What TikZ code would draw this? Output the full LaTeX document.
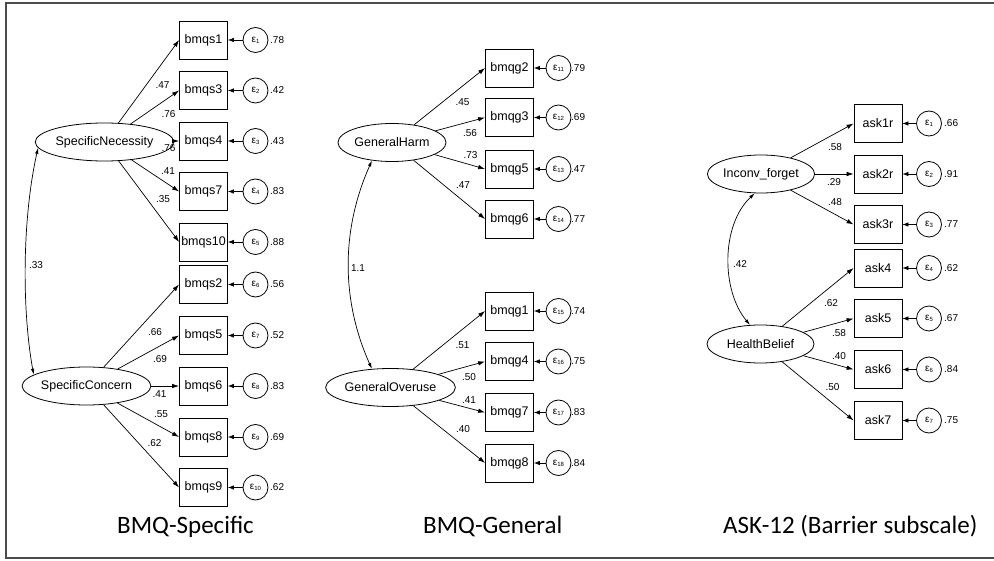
\documentclass[tikz,border=0pt]{standalone}
\usepackage{fontspec}
\setmainfont{Liberation Sans}
\newfontfamily\capfont{Carlito}
\usetikzlibrary{arrows.meta,shapes.geometric}
\newcommand\epsl[1]{{\fontsize{10}{10}\selectfont ε}\raisebox{-1pt}{\fontsize{6}{6}\selectfont #1}}
\begin{document}
\begin{tikzpicture}[x=1pt,y=-1pt,
 every node/.style={inner sep=0pt},
 ind/.style={draw, line width=0.8pt, minimum width=48pt, minimum height=38pt, font=\fontsize{12.5}{14}\selectfont},
 lat/.style={draw, ellipse, line width=0.8pt, minimum width=106pt, minimum height=38pt, font=\fontsize{12.5}{14}\selectfont},
 err/.style={draw, circle, line width=0.8pt, minimum size=25pt},
 num/.style={font=\fontsize{10}{11}\selectfont},
 load/.style={-{Latex[length=7pt,width=4.5pt]}, line width=0.7pt},
 eline/.style={-{Latex[length=6pt,width=4.5pt]}, line width=0.7pt},
 cov/.style={{Latex[length=6pt,width=3.5pt]}-{Latex[length=6pt,width=3.5pt]}, line width=0.7pt},
 captxt/.style={font=\capfont\fontsize{25}{30}\selectfont, anchor=base west},
 frm/.style={draw=black!70, line width=2pt}
]
\useasboundingbox (0,0) rectangle (994,561);
\draw[frm] (994,3) -- (6,3) -- (6,558) -- (994,558);

% ---------- BMQ-Specific ----------
\node[lat, minimum width=105pt] (sn) at (104.5,142) {SpecificNecessity};
\node[lat, minimum width=107pt] (sc) at (86.5,386) {SpecificConcern};
\foreach \t/\y/\k/\v in {bmqs1/40/1/.78, bmqs3/90.5/2/.42, bmqs4/141/3/.43, bmqs7/191.5/4/.83, bmqs10/242/5/.88, bmqs2/284.5/6/.56, bmqs5/335.5/7/.52, bmqs6/386/8/.83, bmqs8/437/9/.69, bmqs9/487.5/10/.62}{
 \node[ind] (\t) at (203.5,\y) {\t};
 \node[err] (e\t) at (255.5,\y) {\epsl{\k}};
 \node[num, anchor=west] (r\t) at (270,\y) {\v};
 \draw[eline] (e\t) -- (\t);
}
\foreach \t/\lx/\ly/\v in {bmqs1/162.5/85/.47, bmqs3/168.5/114/.76, bmqs4/168.5/148/.76, bmqs7/168/171/.41, bmqs10/163/199/.35}{
 \draw[load] (sn) -- (\t.west);
 \node[num] (l\t) at (\lx,\ly) {\v};
}
\foreach \t/\lx/\ly/\v in {bmqs2/155/332/.66, bmqs5/160/359/.69, bmqs6/159.5/394/.41, bmqs8/161/414/.55, bmqs9/154.5/443/.62}{
 \draw[load] (sc) -- (\t.west);
 \node[num] (l\t) at (\lx,\ly) {\v};
}
\draw[cov] (sn.185) .. controls (22,220) and (22,310) .. (sc.168);
\node[num] (c1) at (36,265) {.33};

% ---------- BMQ-General ----------
\node[lat, minimum width=108pt] (gh) at (392,142.5) {GeneralHarm};
\node[lat, minimum width=107pt] (go) at (390.5,387.5) {GeneralOveruse};
\foreach \t/\y/\k/\v in {bmqg2/68/11/.79, bmqg3/117.5/12/.69, bmqg5/169/13/.47, bmqg6/219/14/.77, bmqg1/311/15/.74, bmqg4/361.5/16/.75, bmqg7/412.5/17/.83, bmqg8/463/18/.84}{
 \node[ind] (\t) at (509.5,\y) {\t};
 \node[err] (e\t) at (558.5,\y) {\epsl{\k}};
 \node[num, anchor=west] (r\t) at (571,\y) {\v};
 \draw[eline] (e\t) -- (\t);
}
\foreach \t/\lx/\ly/\v in {bmqg2/462.5/102/.45, bmqg3/470/133/.56, bmqg5/470.5/155/.73, bmqg6/463/185/.47}{
 \draw[load] (gh) -- (\t.west);
 \node[num] (l\t) at (\lx,\ly) {\v};
}
\foreach \t/\lx/\ly/\v in {bmqg1/462.5/345/.51, bmqg4/469/377/.50, bmqg7/469/400/.41, bmqg8/463/429/.40}{
 \draw[load] (go) -- (\t.west);
 \node[num] (l\t) at (\lx,\ly) {\v};
}
\draw[cov] (gh.222) .. controls (341,230) and (341,300) .. (go.135);
\node[num] (c2) at (358,268) {1.1};

% ---------- ASK-12 ----------
\node[lat, minimum width=106pt] (ifg) at (761,174) {Inconv\_forget};
\node[lat, minimum width=107pt] (hb) at (760.5,344) {HealthBelief};
\foreach \t/\y/\k/\v in {ask1r/123.5/1/.66, ask2r/174/2/.91, ask3r/224.5/3/.77, ask4/268/4/.62, ask5/318.5/5/.67, ask6/369.5/6/.84, ask7/420.5/7/.75}{
 \node[ind] (\t) at (878,\y) {\t};
 \node[err] (e\t) at (929,\y) {\epsl{\k}};
 \node[num, anchor=west] (r\t) at (944,\y) {\v};
 \draw[eline] (e\t) -- (\t);
}
\foreach \t/\lx/\ly/\v in {ask1r/835/147/.58, ask2r/834/182/.29, ask3r/835/202/.48}{
 \draw[load] (ifg) -- (\t.west);
 \node[num] (l\t) at (\lx,\ly) {\v};
}
\foreach \t/\lx/\ly/\v in {ask4/831/303/.62, ask5/839/333/.58, ask6/839/356/.40, ask7/832.5/387/.50}{
 \draw[load] (hb) -- (\t.west);
 \node[num] (l\t) at (\lx,\ly) {\v};
}
\draw[cov] (ifg.252) .. controls (721,225) and (721,290) .. (hb.119);
\node[num] (c3) at (740,264) {.42};

% ---------- captions ----------
\node[captxt] (t1) at (117,533) {BMQ-Specific};
\node[captxt] (t2) at (423,533) {BMQ-General};
\node[captxt] (t3) at (723,533) {ASK-12 (Barrier subscale)};
\end{tikzpicture}
\end{document}
